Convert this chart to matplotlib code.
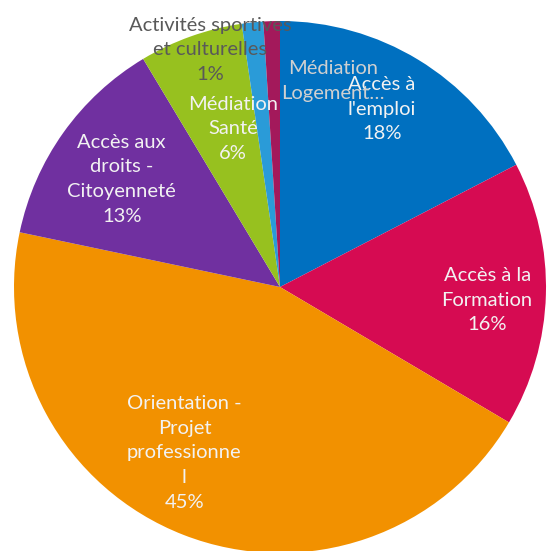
import numpy as np
import matplotlib
matplotlib.use("Agg")
import matplotlib.pyplot as plt

plt.rcParams['font.family'] = ['Lato', 'DejaVu Sans']

categories = ["Accès à\nl'emploi", "Accès à la\nFormation", "Orientation -\nProjet\nprofessionne\nl",
              "Accès aux\ndroits -\nCitoyenneté", "Médiation\nSanté",
              "Activités sportives\net culturelles", "Médiation\nLogement…"]
values = [17.4, 16.1, 44.8, 13.1, 6.3, 1.3, 1.0]
pct_labels = ["18%", "16%", "45%", "13%", "6%", "1%", ""]
colors = ['#0070C0', '#D60B52', '#F29100', '#7030A0', '#97C11F', '#2A9BD8', '#A3195B']
text_colors = ['#F2F2F2', '#F2F2F2', '#F2F2F2', '#F2F2F2', '#F2F2F2', '#595959', '#D0D0D0']
# position des étiquettes : (distance au centre, décalage d'angle)
label_pos = [(0.77, 1.5), (0.78, -2.0), (0.72, -8.7), (0.72, 1.2), (0.62, -3.1), (0.93, 10.5), (0.80, -16.3)]

fig = plt.figure(figsize=(5.47, 5.51), dpi=100)
ax = fig.add_axes([0, 0, 1, 1])
wedges, _ = ax.pie(values, colors=colors, startangle=90, counterclock=False,
                   radius=1, wedgeprops=dict(linewidth=0))

for w, cat, pct, tc, (r, da) in zip(wedges, categories, pct_labels, text_colors, label_pos):
    ang = np.deg2rad((w.theta1 + w.theta2) / 2 + da)
    txt = cat + ("\n" + pct if pct else "")
    ax.text(r * np.cos(ang), r * np.sin(ang), txt, ha='center', va='center',
            fontsize=14.5, color=tc, linespacing=1.55)

ax.set_aspect('auto')
ax.set_xlim(-280 / 266, 267 / 266)
ax.set_ylim(-264 / 266, 287 / 266)
ax.axis('off')
fig.savefig("out.png", dpi=100)
